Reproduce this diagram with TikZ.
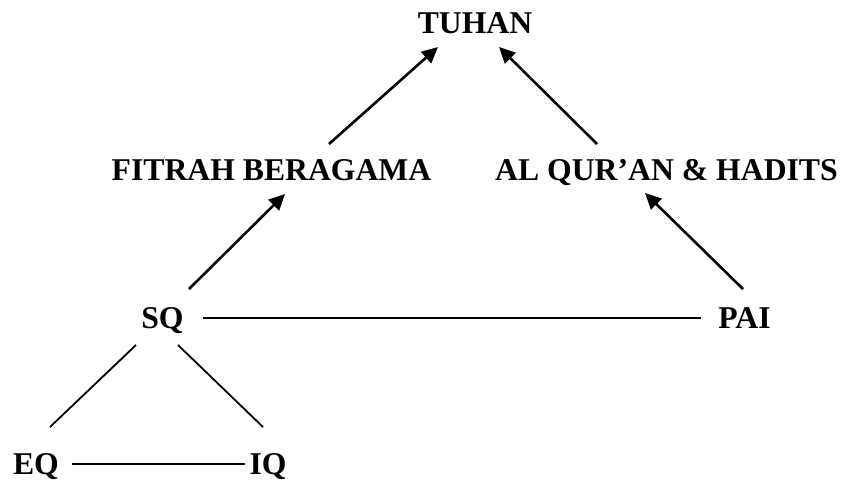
\documentclass[tikz,border=0pt]{standalone}
\usepackage{fontspec}
\setmainfont{Liberation Serif}
\usetikzlibrary{arrows.meta,calc}
\begin{document}
\begin{tikzpicture}[x=1pt,y=-1pt,
  lbl/.style={anchor=base,inner sep=0pt,font=\fontsize{31.7}{38}\selectfont\bfseries},
  arr/.style={line width=2.6pt,-{Triangle[length=16pt,width=15pt]}},
  ln/.style={line width=1.8pt}]
\useasboundingbox (0,0) rectangle (842,482);
\node[lbl] (T) at (475,33) {TUHAN};
\node[lbl] (F) at (271.5,180) {FITRAH BERAGAMA};
\node[lbl] (A) at (666.5,180) {AL QUR’AN \& HADITS};
\node[lbl] (S) at (162.5,328) {SQ};
\node[lbl] (P) at (744.5,328) {PAI};
\node[lbl] (E) at (36,474) {EQ};
\node[lbl] (I) at (268,474) {IQ};
% arrows
\draw[arr] ($(F.base)+(57.5,-36)$) -- ($(T.base)+(-37,14)$);
\draw[arr] ($(A.base)+(-69.5,-36)$) -- ($(T.base)+(24,14)$);
\draw[arr] ($(S.base)+(26.5,-39)$) -- ($(F.base)+(13.5,14)$);
\draw[arr] ($(P.base)+(-1.5,-39)$) -- ($(A.base)+(-21.5,13)$);
% lines
\draw[ln] ($(S.base)+(40.5,-10)$) -- ($(P.base)+(-43.5,-10)$);
\draw[ln] ($(S.base)+(-26.5,17)$) -- ($(E.base)+(14,-47)$);
\draw[ln] ($(S.base)+(15.5,17)$) -- ($(I.base)+(-5,-47)$);
\draw[ln] ($(E.base)+(36,-10)$) -- ($(I.base)+(-23,-10)$);
\end{tikzpicture}
\end{document}
